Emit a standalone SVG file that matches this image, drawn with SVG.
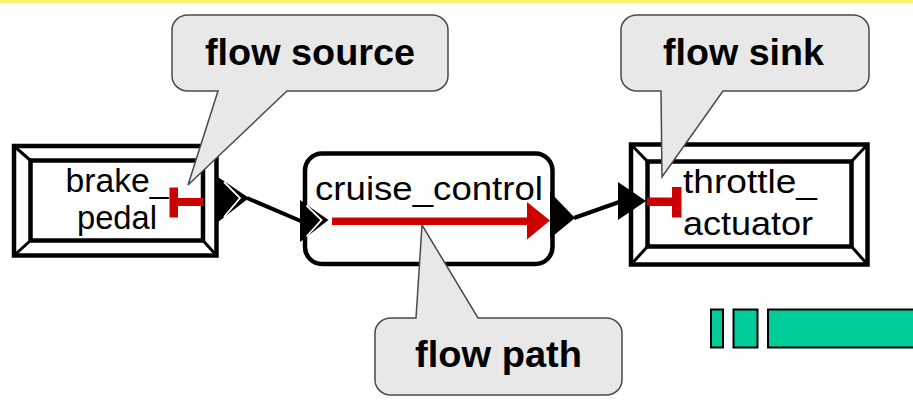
<svg xmlns="http://www.w3.org/2000/svg" width="913" height="408" viewBox="0 0 913 408">
<style>
.frame{fill:none;stroke:#000;stroke-width:4.5}
.diag{stroke:#000;stroke-width:3}
.lbl{font-family:"Liberation Sans",Arial,sans-serif;font-size:34px;fill:#000}
.call{font-family:"Liberation Sans",Arial,sans-serif;font-size:37px;font-weight:bold;fill:#000}
.bubble{fill:#e8e8e8;stroke:#4a4a4a;stroke-width:1.5}
.port{fill:#000}
.chev{fill:none;stroke:#fff;stroke-width:1.8}
.conn{stroke:#000;stroke-width:4;fill:none}
.red{fill:#cc0000}
.bar{fill:#00cc99;stroke:#000;stroke-width:2}
</style>
<rect x="0" y="0" width="913" height="408" fill="#fff"/>
<rect x="0" y="0" width="913" height="3" fill="#f5f56e"/>

<g id="connectors">
<line class="conn" x1="247" y1="198" x2="303" y2="222"/>
<line class="conn" x1="574" y1="218" x2="622" y2="201"/>
</g>

<g id="brake_pedal">
<rect class="frame" x="14" y="146" width="202.5" height="109.5" fill="#fff" style="fill:#fff"/>
<rect class="frame" x="30.5" y="160.5" width="172.5" height="80"/>
<line class="diag" x1="14" y1="146" x2="30.5" y2="160.5"/>
<line class="diag" x1="216.5" y1="146" x2="203" y2="160.5"/>
<line class="diag" x1="14" y1="255.5" x2="30.5" y2="240.5"/>
<line class="diag" x1="216.5" y1="255.5" x2="203" y2="240.5"/>
<text class="lbl" x="117" y="192" text-anchor="middle" textLength="103" lengthAdjust="spacingAndGlyphs">brake_</text>
<text class="lbl" x="117" y="229" text-anchor="middle" textLength="80" lengthAdjust="spacingAndGlyphs">pedal</text>
<rect class="red" x="169.5" y="187.5" width="8.5" height="30"/>
<rect class="red" x="177.5" y="198" width="26" height="8"/>
<polygon class="port" points="218,177 249,198 218,222"/>
<polyline class="chev" points="224,182 240,198 224,217"/>
</g>

<g id="cruise_control">
<rect class="frame" x="305" y="153.5" width="247.5" height="110.5" rx="17" ry="17" style="fill:#fff"/>
<text class="lbl" x="315" y="200" textLength="228" lengthAdjust="spacingAndGlyphs">cruise_control</text>
<rect class="red" x="332" y="217.5" width="197" height="7.5"/>
<polygon class="red" points="527,202 550,220.5 527,239.5"/>
<polygon class="port" points="300,200 328.5,220 300,242"/>
<polyline class="chev" points="306.5,205.5 321.5,220 306.5,236.5"/>
<polygon class="port" points="550,192 575,218 550,238.5"/>
</g>

<g id="throttle_actuator">
<rect class="frame" x="631" y="144.5" width="236.5" height="120" style="fill:#fff"/>
<rect class="frame" x="647.5" y="161.5" width="204" height="85"/>
<line class="diag" x1="631" y1="144.5" x2="647.5" y2="161.5"/>
<line class="diag" x1="867.5" y1="144.5" x2="851.5" y2="161.5"/>
<line class="diag" x1="631" y1="264.5" x2="647.5" y2="246.5"/>
<line class="diag" x1="867.5" y1="264.5" x2="851.5" y2="246.5"/>
<text class="lbl" x="683" y="193" textLength="134" lengthAdjust="spacingAndGlyphs">throttle_</text>
<text class="lbl" x="683" y="235" textLength="130" lengthAdjust="spacingAndGlyphs">actuator</text>
<rect class="red" x="647" y="197.5" width="26" height="8.5"/>
<rect class="red" x="672" y="187" width="9.5" height="30.5"/>
<polygon class="port" points="618,182 646,201 618,220"/>
</g>

<g id="flow_source">
<path class="bubble" d="M188,15 H432 A16,15 0 0 1 448,30 V76 A16,15 0 0 1 432,91 H287 L188,185 L218,91 H188 A16,15 0 0 1 172,76 V30 A16,15 0 0 1 188,15 Z"/>
<text class="call" x="205" y="65" textLength="210" lengthAdjust="spacingAndGlyphs">flow source</text>
</g>

<g id="flow_sink">
<path class="bubble" d="M637,15 H853 A16,15 0 0 1 869,30 V76 A16,15 0 0 1 853,91 H723 L662,177 L661,91 H637 A16,15 0 0 1 621,76 V30 A16,15 0 0 1 637,15 Z"/>
<text class="call" x="663" y="65" textLength="161" lengthAdjust="spacingAndGlyphs">flow sink</text>
</g>

<g id="flow_path">
<path class="bubble" d="M391,318 H416 L422,225 L478,318 H606 A16,15 0 0 1 622,333 V380 A16,15 0 0 1 606,395 H391 A16,15 0 0 1 375,380 V333 A16,15 0 0 1 391,318 Z"/>
<text class="call" x="415" y="367" textLength="167" lengthAdjust="spacingAndGlyphs">flow path</text>
</g>

<g id="legend_bars">
<rect class="bar" x="711" y="309.5" width="12" height="38"/>
<rect class="bar" x="733.5" y="309.5" width="24" height="38"/>
<rect class="bar" x="768" y="309.5" width="150" height="38"/>
</g>
</svg>
